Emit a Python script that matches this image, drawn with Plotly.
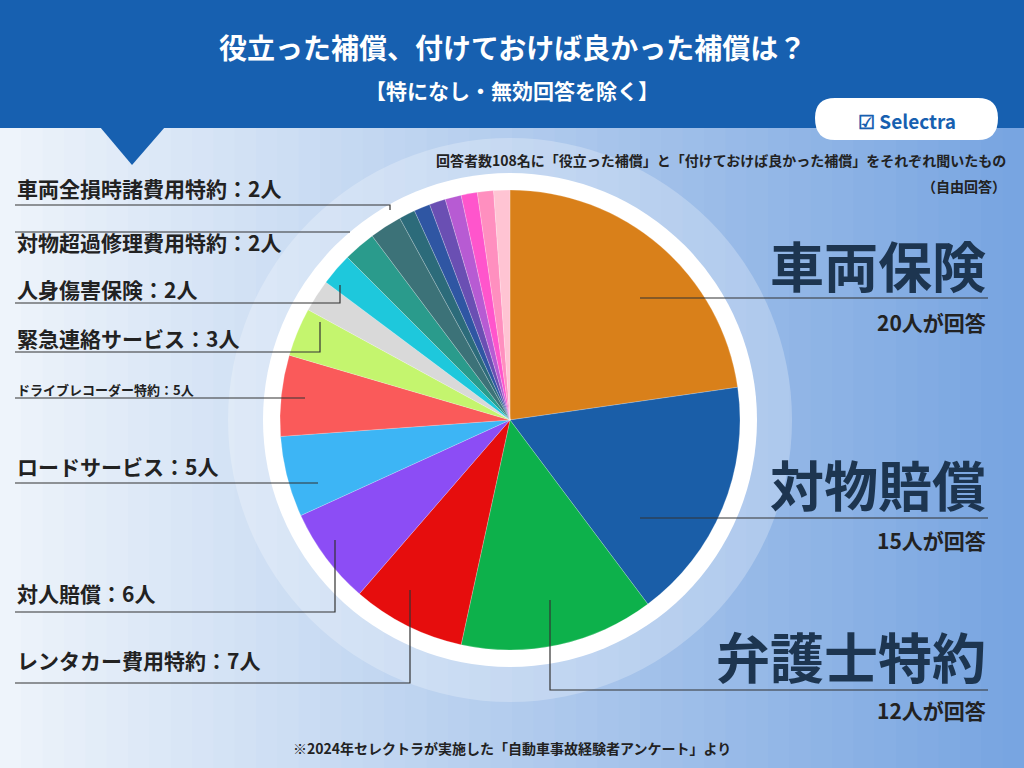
import plotly.graph_objects as go

categories = ["車両保険","対物賠償","弁護士特約","レンタカー費用特約","対人賠償","ロードサービス",
              "ドライブレコーダー特約","緊急連絡サービス","人身傷害保険","対物超過修理費用特約","その他A",
              "車両全損時諸費用特約","その他B","その他C","その他D","その他E","その他F","その他G","その他H"]
values = [20,15,12,7,6,5,5,3,2,2,2,2,1,1,1,1,1,1,1]
colors = ["#d9801a","#1a5ea8","#0db14b","#e60d0d","#8c4df5","#3db5f5","#fa5a5a","#c4f56e","#d9d9d9",
          "#1ec8dc","#2a9b8c","#3c7278","#2c6b7a","#2f56a3","#6a4fb3","#b75bd3","#ff55cc","#ff8fbf","#ffc4d3"]

W, H = 1024, 768
def px(x): return x / W
def py(y): return 1 - y / H

fig = go.Figure()
cx, cy, R = 510, 420, 230
fig.add_trace(go.Pie(labels=categories, values=values, sort=False, direction="clockwise", rotation=0,
                     marker=dict(colors=colors, line=dict(color="rgba(255,255,255,0.35)", width=0.6)),
                     textinfo="none", hoverinfo="label+value", showlegend=False,
                     domain=dict(x=[px(cx-R), px(cx+R)], y=[py(cy+R), py(cy-R)])))

shapes = []
N = 48
for i in range(N):
    t = i / (N - 1)
    r = int(238 + (120 - 238) * t); g = int(244 + (165 - 244) * t); b = int(251 + (225 - 251) * t)
    shapes.append(dict(type="rect", xref="paper", yref="paper", x0=i/N, x1=(i+1)/N+0.002, y0=0, y1=1,
                       line=dict(width=0), fillcolor=f"rgb({r},{g},{b})", layer="below"))
shapes.append(dict(type="rect", xref="paper", yref="paper", x0=0, x1=1, y0=py(128), y1=1,
                   line=dict(width=0), fillcolor="#1760b0", layer="below"))
shapes.append(dict(type="path", xref="paper", yref="paper",
                   path=f"M {px(100)} {py(127)} L {px(165)} {py(127)} L {px(132)} {py(165)} Z",
                   line=dict(width=0), fillcolor="#1760b0", layer="below"))
for rr, col in [(282, "rgba(255,255,255,0.25)"), (247, "white")]:
    shapes.append(dict(type="circle", xref="paper", yref="paper", x0=px(cx-rr), x1=px(cx+rr),
                       y0=py(cy+rr), y1=py(cy-rr), line=dict(width=0), fillcolor=col, layer="below"))
shapes.append(dict(type="path", xref="paper", yref="paper",
                   path=f"M {px(835)} {py(98)} L {px(978)} {py(98)} Q {px(998)} {py(98)} {px(998)} {py(118)} "
                        f"Q {px(998)} {py(140)} {px(978)} {py(140)} L {px(835)} {py(140)} "
                        f"Q {px(815)} {py(140)} {px(815)} {py(118)} Q {px(815)} {py(98)} {px(835)} {py(98)} Z",
                   line=dict(width=0), fillcolor="white", layer="above"))

def line(pts):
    d = "M " + " L ".join(f"{px(x)} {py(y)}" for x, y in pts)
    shapes.append(dict(type="path", xref="paper", yref="paper", path=d,
                       line=dict(color="#333333", width=1.2)))

line([(640,298),(988,298)])
line([(640,518),(988,518)])
line([(550,600),(550,690),(988,690)])
line([(15,683),(410,683),(410,590)])
line([(15,612),(335,612),(335,540)])
line([(15,483),(318,483)])
line([(15,398),(305,398)])
line([(15,352),(320,352),(320,322)])
line([(15,303),(340,303),(340,285)])
line([(15,232),(350,232)])
line([(15,205),(390,205),(390,210)])

ann = []
def T(x, y, s, size, color="#222", anchor="left", weight="bold"):
    ann.append(dict(x=px(x), y=py(y), xref="paper", yref="paper", text=s, showarrow=False,
                    xanchor=anchor, yanchor="middle",
                    font=dict(size=size, color=color, family="Noto Sans CJK JP", weight=weight)))

T(512, 47, "役立った補償、付けておけば良かった補償は？", 28, "white", "center")
T(512, 90, "【特になし・無効回答を除く】", 21, "white", "center")
T(907, 120, "☑ Selectra", 19, "#1760b0", "center")
T(1008, 160, "回答者数108名に「役立った補償」と「付けておけば良かった補償」をそれぞれ聞いたもの", 14, "#222", "right")
T(1008, 186, "（自由回答）", 14, "#222", "right")
T(988, 265, "車両保険", 54, "#1d3550", "right")
T(988, 322, "20人が回答", 21, "#222", "right")
T(988, 483, "対物賠償", 54, "#1d3550", "right")
T(988, 540, "15人が回答", 21, "#222", "right")
T(988, 655, "弁護士特約", 54, "#1d3550", "right")
T(988, 710, "12人が回答", 21, "#222", "right")
T(15, 660, "レンタカー費用特約：7人", 21)
T(15, 593, "対人賠償：6人", 21)
T(15, 466, "ロードサービス：5人", 21)
T(15, 389, "ドライブレコーダー特約：5人", 13)
T(15, 338, "緊急連絡サービス：3人", 21)
T(15, 289, "人身傷害保険：2人", 21)
T(15, 242, "対物超過修理費用特約：2人", 21)
T(15, 188, "車両全損時諸費用特約：2人", 21)
T(512, 748, "※2024年セレクトラが実施した「自動車事故経験者アンケート」より", 14, "#222", "center")

fig.update_layout(width=W, height=H, margin=dict(l=0, r=0, t=0, b=0),
                  paper_bgcolor="#eef3fa", plot_bgcolor="rgba(0,0,0,0)",
                  shapes=shapes, annotations=ann)
fig.write_html("out.html", config=dict(displayModeBar=False),
               post_script="document.body.style.margin='0';document.body.style.overflow='hidden';")
